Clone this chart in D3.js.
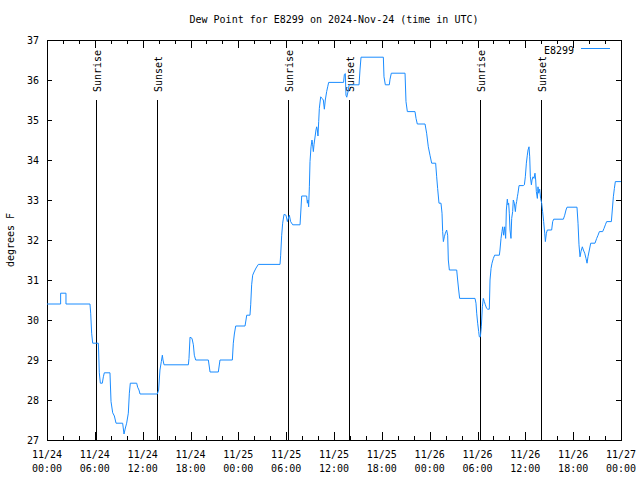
<!DOCTYPE html>
<html><head><meta charset="utf-8">
<script src="https://cdn.jsdelivr.net/npm/d3@7"></script>
<style>body{margin:0;background:#fff}svg{display:block}text{font-family:"DejaVu Sans Mono",monospace;font-size:10px;fill:#000}</style>
</head><body><svg id="c" width="640" height="480"></svg>
<script>
const title = "Dew Point for E8299 on 2024-Nov-24 (time in UTC)";
const seriesName = "E8299";
const yLabel = "degrees F";
const startTime = Date.UTC(2024, 10, 24, 0, 0);
// hours since 11/24 00:00 UTC
const hours = [0,1.71,1.71,2.38,2.38,5.39,5.48,5.6,5.73,6.44,6.48,6.56,6.69,6.94,7.07,7.19,7.9,8.03,8.24,8.45,8.66,9.49,9.66,9.83,9.99,10.2,10.33,10.45,11.25,11.37,11.54,11.67,13.84,14.0,14.17,14.34,14.47,14.55,14.68,17.73,17.81,17.94,18.19,18.36,18.48,18.65,20.24,20.45,21.49,21.7,23.25,23.37,23.5,23.67,24.84,24.96,25.05,25.46,25.55,25.67,25.8,25.97,26.22,26.51,29.23,29.31,29.44,29.56,29.73,29.98,30.15,30.4,30.56,30.82,31.74,31.95,32.57,32.66,32.74,32.82,32.91,32.99,33.12,33.24,33.32,33.41,33.49,33.74,33.83,33.91,33.99,34.08,34.16,34.33,34.5,34.66,34.79,34.91,35.08,35.21,35.33,37.2,37.3,37.42,37.5,37.6,37.75,37.9,39.14,39.26,39.39,42.19,42.27,42.44,42.94,43.03,43.19,44.91,45.03,45.2,46.16,46.29,46.45,47.42,47.62,47.83,48.04,48.25,48.75,48.88,49.0,49.17,49.42,49.55,49.63,49.72,49.84,49.97,50.13,50.26,50.34,50.47,51.39,51.51,51.64,51.76,53.69,53.81,53.9,54.02,54.15,54.23,54.36,54.48,54.61,54.73,54.86,54.98,55.15,55.28,55.48,55.57,55.7,55.82,55.99,56.15,56.74,56.82,56.95,57.07,57.16,57.28,57.41,57.53,57.62,57.74,57.82,57.91,57.99,58.08,58.2,58.29,58.41,58.49,58.62,58.75,58.83,58.91,59.0,59.08,59.21,59.75,59.88,60.0,60.13,60.25,60.34,60.46,60.55,60.63,60.76,60.84,60.96,61.09,61.21,61.3,61.38,61.51,61.59,61.67,61.8,61.92,62.05,62.17,62.3,62.43,62.51,62.64,62.76,63.3,63.43,63.56,64.77,64.94,65.1,65.23,66.48,66.61,66.73,66.86,66.98,67.15,67.28,67.45,67.61,67.74,67.86,68.03,68.2,68.74,68.95,69.12,69.29,69.7,69.87,70.04,70.2,70.79,70.91,71.04,71.17,71.29,72];
const dewPoint = [30.4,30.4,30.67,30.67,30.4,30.4,30.17,29.67,29.42,29.42,29.2,28.68,28.42,28.42,28.58,28.68,28.68,27.96,27.68,27.6,27.42,27.42,27.15,27.3,27.42,27.67,28.17,28.42,28.42,28.32,28.25,28.15,28.15,28.25,28.75,28.96,29.12,29.0,28.88,28.88,29.04,29.57,29.54,29.38,29.12,29.0,29.0,28.7,28.7,29.0,29.0,29.42,29.65,29.85,29.85,30.0,30.12,30.12,30.38,30.88,31.12,31.2,31.3,31.39,31.39,31.62,32.12,32.42,32.64,32.62,32.46,32.62,32.46,32.38,32.38,33.1,33.1,32.92,33.0,32.83,33.33,33.96,34.33,34.5,34.38,34.21,34.38,34.75,34.83,34.75,34.6,34.96,35.29,35.58,35.54,35.5,35.27,35.5,35.71,35.83,35.94,35.94,36.14,36.16,35.62,35.57,35.7,35.88,35.88,36.25,36.57,36.57,36.08,35.88,35.88,36.02,36.17,36.17,35.46,35.21,35.21,35.04,34.9,34.9,34.67,34.33,34.12,33.92,33.92,33.58,33.29,32.92,32.92,32.67,32.21,31.96,32.08,32.17,32.25,32.12,31.5,31.25,31.25,31.0,30.75,30.54,30.54,30.42,30.17,29.92,29.71,29.58,29.58,29.83,30.33,30.54,30.46,30.38,30.29,30.27,30.27,31.0,31.29,31.42,31.54,31.62,31.62,31.75,32.04,32.21,32.33,32.12,32.33,32.04,32.75,33.02,32.88,32.92,32.67,32.25,32.04,32.54,32.71,33.0,32.92,32.71,32.88,32.96,33.08,33.17,33.36,33.36,33.38,33.58,33.92,34.12,34.25,34.33,34.08,33.58,33.38,33.5,33.58,33.54,33.67,33.5,33.21,33.04,33.33,33.17,33.27,33.04,32.92,32.71,32.46,32.17,31.96,32.17,32.25,32.25,32.46,32.52,32.52,32.62,32.75,32.82,32.82,32.42,31.88,31.58,31.71,31.83,31.75,31.67,31.54,31.42,31.58,31.75,31.92,31.92,32.04,32.12,32.21,32.21,32.29,32.38,32.46,32.46,32.75,33.08,33.29,33.46,33.46];
const sunHours = [6.15, 13.8, 30.23, 37.88, 54.3, 61.97];
const sunLabels = ["Sunrise","Sunset","Sunrise","Sunset","Sunrise","Sunset"];
const yTicks = [27,28,29,30,31,32,33,34,35,36,37];

const svg = d3.select("#c");
const L = 47, R = 621, T = 40, B = 440;
const x = d3.scaleUtc().domain([new Date(startTime), new Date(startTime + 72*3600e3)]).range([L, R]);
const y = d3.scaleLinear().domain([27, 37]).range([B, T]);
const toDate = h => new Date(startTime + h*3600e3);

// frame
svg.append("rect").attr("x", L+0.5).attr("y", T+0.5).attr("width", R-L).attr("height", B-T)
  .attr("fill", "none").attr("stroke", "#000");

const major = d3.utcHour.every(6).range(x.domain()[0], new Date(+x.domain()[1] + 1));
const minor = d3.utcHour.every(2).range(x.domain()[0], new Date(+x.domain()[1] + 1));
const fmt1 = d3.utcFormat("%m/%d"), fmt2 = d3.utcFormat("%H:%M");
const tg = svg.append("g").attr("stroke", "#000");
minor.forEach(d => {
  const isMajor = d.getUTCHours() % 6 === 0;
  const len = isMajor ? 8 : 4;
  const px = Math.round(x(d)) + 0.5;
  tg.append("line").attr("x1", px).attr("x2", px).attr("y1", B).attr("y2", B - len);
  tg.append("line").attr("x1", px).attr("x2", px).attr("y1", T).attr("y2", T + len);
});
major.forEach(d => {
  const px = x(d);
  svg.append("text").attr("x", px).attr("y", 458).attr("text-anchor", "middle").text(fmt1(d));
  svg.append("text").attr("x", px).attr("y", 472).attr("text-anchor", "middle").text(fmt2(d));
});
yTicks.forEach(v => {
  const py = Math.round(y(v)) + 0.5;
  tg.append("line").attr("x1", L).attr("x2", L + 5).attr("y1", py).attr("y2", py);
  tg.append("line").attr("x1", R - 5).attr("x2", R).attr("y1", py).attr("y2", py);
  svg.append("text").attr("x", 39).attr("y", y(v) + 4).attr("text-anchor", "end").text(v);
});

// title and axis label
svg.append("text").attr("x", 334).attr("y", 23).attr("text-anchor", "middle").text(title);
svg.append("text").attr("transform", "translate(14,240) rotate(-90)").attr("text-anchor", "middle").text(yLabel);

// sun lines
sunHours.forEach((h, i) => {
  const px = Math.round(x(toDate(h))) + 0.5;
  svg.append("line").attr("x1", px).attr("x2", px).attr("y1", y(35.5)).attr("y2", B).attr("stroke", "#000");
  svg.append("text").attr("transform", `translate(${px + 4},92) rotate(-90)`).attr("text-anchor", "start").text(sunLabels[i]);
});

// data line
const data = hours.map((h, i) => ({t: toDate(h), v: dewPoint[i]}));
svg.append("path").datum(data).attr("fill", "none").attr("stroke", "#1a8cff").attr("stroke-width", 1)
  .attr("d", d3.line().x(d => x(d.t)).y(d => y(d.v)));

// legend
svg.append("text").attr("x", 574).attr("y", 54).attr("text-anchor", "end").text(seriesName);
svg.append("line").attr("x1", 581).attr("x2", 610).attr("y1", 48.5).attr("y2", 48.5).attr("stroke", "#1a8cff");
</script></body></html>
